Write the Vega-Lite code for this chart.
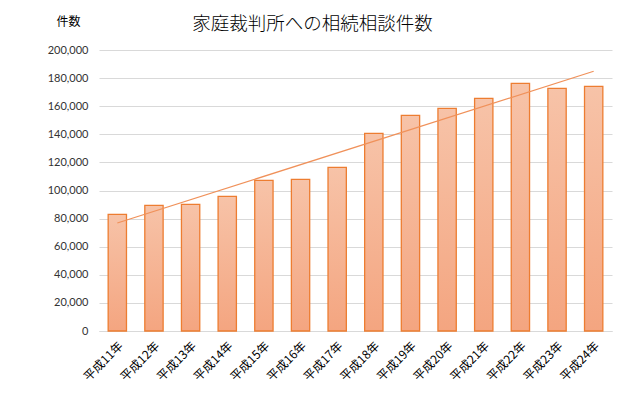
{
  "$schema": "https://vega.github.io/schema/vega-lite/v6.json",
  "autosize": {"type": "none"},
  "width": 513,
  "height": 281,
  "padding": {"left": 99, "top": 50, "right": 16, "bottom": 62},
  "background": "white",
  "config": {"view": {"stroke": null}},
  "title": {
    "text": "家庭裁判所への相続相談件数",
    "font": "Noto Sans CJK JP",
    "fontSize": 18.5,
    "fontWeight": 300,
    "color": "#000000",
    "anchor": "middle",
    "dx": -43,
    "offset": -18
  },
  "datasets": {
    "counts": [
      {"year": "平成11年", "n": 1, "count": 83060},
      {"year": "平成12年", "n": 2, "count": 89470},
      {"year": "平成13年", "n": 3, "count": 90180},
      {"year": "平成14年", "n": 4, "count": 95870},
      {"year": "平成15年", "n": 5, "count": 107260},
      {"year": "平成16年", "n": 6, "count": 107970},
      {"year": "平成17年", "n": 7, "count": 116510},
      {"year": "平成18年", "n": 8, "count": 140710},
      {"year": "平成19年", "n": 9, "count": 153520},
      {"year": "平成20年", "n": 10, "count": 158500},
      {"year": "平成21年", "n": 11, "count": 165620},
      {"year": "平成22年", "n": 12, "count": 176300},
      {"year": "平成23年", "n": 13, "count": 172740},
      {"year": "平成24年", "n": 14, "count": 174160}
    ]
  },
  "data": {"name": "counts"},
  "encoding": {
    "x": {
      "field": "year",
      "type": "ordinal",
      "sort": null,
      "scale": {"paddingInner": 0.5, "paddingOuter": 0.25},
      "axis": {
        "title": null,
        "labelAngle": -45,
        "labelFont": "Noto Sans CJK JP",
        "labelFontSize": 12,
        "labelColor": "#000000",
        "ticks": false,
        "tickSize": 0,
        "labelPadding": 9,
        "domainColor": "#D9D9D9",
        "domainWidth": 1
      }
    },
    "y": {
      "field": "count",
      "type": "quantitative",
      "scale": {"domain": [0, 200000], "nice": false},
      "axis": {
        "title": "件数",
        "titleAngle": 0,
        "titleX": -31,
        "titleY": -29,
        "titleAlign": "center",
        "titleBaseline": "middle",
        "titleFont": "Noto Sans CJK JP",
        "titleFontSize": 12,
        "titleFontWeight": "normal",
        "titleColor": "#000000",
        "values": [0, 20000, 40000, 60000, 80000, 100000, 120000, 140000, 160000, 180000, 200000],
        "format": ",d",
        "labelOverlap": false,
        "labelFont": "Lato",
        "labelFontSize": 11,
        "labelColor": "#333333",
        "ticks": false,
        "tickSize": 0,
        "labelPadding": 11,
        "domain": false,
        "grid": true,
        "gridColor": "#D9D9D9",
        "gridWidth": 1
      }
    }
  },
  "layer": [
    {
      "mark": {
        "type": "bar",
        "fill": {
          "gradient": "linear",
          "x1": 0, "y1": 0, "x2": 0, "y2": 1,
          "stops": [
            {"offset": 0, "color": "#F7C3A8"},
            {"offset": 1, "color": "#F4A580"}
          ]
        },
        "stroke": "#ED7D31",
        "strokeWidth": 1.3
      }
    },
    {
      "transform": [
        {"regression": "count", "on": "n"},
        {"lookup": "n", "from": {"data": {"name": "counts"}, "key": "n", "fields": ["year"]}}
      ],
      "mark": {"type": "line", "color": "#F0915A", "strokeWidth": 1.2}
    }
  ]
}
